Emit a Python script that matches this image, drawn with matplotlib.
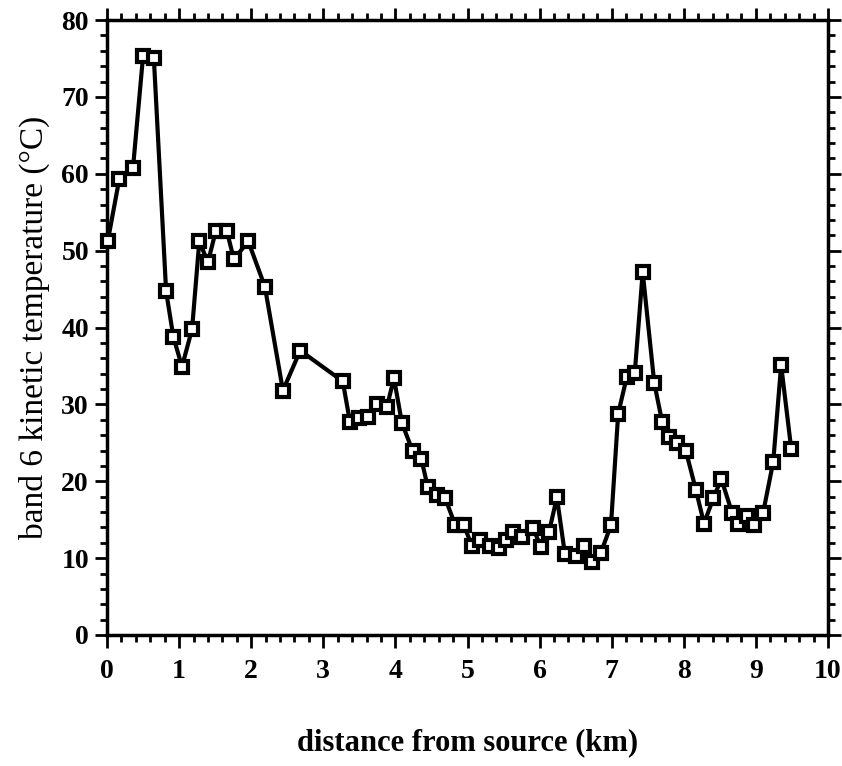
import matplotlib
matplotlib.use("Agg")
import matplotlib.pyplot as plt
from matplotlib.ticker import MultipleLocator

distance_km = [0.01, 0.17, 0.36, 0.50, 0.65, 0.82, 0.92, 1.04, 1.18, 1.28, 1.40, 1.51,
               1.66, 1.76, 1.96, 2.19, 2.44, 2.68, 3.27, 3.37, 3.50, 3.62, 3.74, 3.88,
               3.98, 4.09, 4.24, 4.36, 4.45, 4.58, 4.69, 4.83, 4.95, 5.06, 5.17, 5.31,
               5.44, 5.53, 5.63, 5.76, 5.91, 6.02, 6.13, 6.24, 6.35, 6.50, 6.62, 6.73,
               6.85, 6.99, 7.09, 7.21, 7.32, 7.43, 7.59, 7.70, 7.79, 7.91, 8.03, 8.17,
               8.28, 8.41, 8.52, 8.67, 8.75, 8.88, 8.97, 9.10, 9.24, 9.35, 9.49]
temperature_c = [51.2, 59.3, 60.7, 75.3, 75.0, 44.7, 38.8, 34.9, 39.8, 51.2, 48.5, 52.6,
                 52.6, 48.9, 51.2, 45.3, 31.8, 37.0, 33.0, 27.7, 28.2, 28.3, 30.0, 29.6,
                 33.4, 27.6, 23.9, 22.9, 19.2, 18.2, 17.8, 14.3, 14.3, 11.6, 12.4, 11.6,
                 11.3, 12.4, 13.4, 12.8, 13.9, 11.4, 13.4, 17.9, 10.6, 10.3, 11.6, 9.5,
                 10.7, 14.3, 28.8, 33.6, 34.1, 47.2, 32.8, 27.7, 25.7, 25.0, 23.9, 18.8,
                 14.5, 17.8, 20.3, 15.9, 14.5, 15.5, 14.3, 15.9, 22.5, 35.1, 24.2]

x_ticks = [0, 1, 2, 3, 4, 5, 6, 7, 8, 9, 10]
y_ticks = [0, 10, 20, 30, 40, 50, 60, 70, 80]

fig = plt.figure(figsize=(8.42, 7.66), dpi=100)
ax = fig.add_axes([107/842, 1 - 635/766, (828 - 107)/842, (635 - 20)/766])

ax.plot(distance_km, temperature_c, color="black", linewidth=3.0,
        marker="s", markersize=9, markerfacecolor="white",
        markeredgecolor="black", markeredgewidth=3.0, clip_on=False, zorder=3)

ax.set_xlim(0, 10)
ax.set_ylim(0, 80)
ax.set_xticks(x_ticks)
ax.set_yticks(y_ticks)
ax.xaxis.set_minor_locator(MultipleLocator(0.2))
ax.yaxis.set_minor_locator(MultipleLocator(2))

for s in ax.spines.values():
    s.set_linewidth(2.5)

ax.tick_params(which="both", direction="out", top=True, right=True,
               labeltop=False, labelright=False, width=2.0)
ax.tick_params(which="major", length=9)
ax.tick_params(which="minor", length=5)

tick_font = dict(family="Liberation Serif", weight="bold", size=20)
ax.set_xticklabels([str(t) for t in x_ticks], **tick_font)
ax.set_yticklabels([str(t) for t in y_ticks], **tick_font)
ax.tick_params(axis="x", pad=8)
ax.tick_params(axis="y", pad=4)

ax.set_xlabel("distance from source (km)", family="Liberation Serif",
              weight="bold", size=22, labelpad=32)
ax.set_ylabel("band 6 kinetic temperature (°C)", family="Liberation Serif",
              size=24, labelpad=8)

fig.savefig("out.png", dpi=100)
